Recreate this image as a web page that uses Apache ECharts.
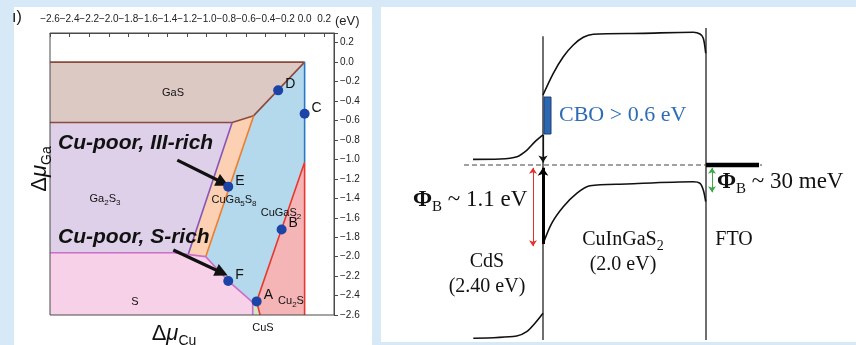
<!DOCTYPE html>
<html><head><meta charset="utf-8">
<script src="https://cdn.jsdelivr.net/npm/echarts@6/dist/echarts.min.js"></script>
<style>html,body{margin:0;padding:0;background:#d7e9f7;}#c{width:856px;height:345px;}</style>
</head><body><div id="c"></div>
<script>
// ---------- Left panel: chemical-potential phase diagram (Δμ_Cu, Δμ_Ga in eV) ----------
const regionNames = ['GaS', 'Ga2S3', 'CuGa5S8', 'CuGaS2', 'Cu2S', 'CuS', 'S'];
const regionGaS     = [[-2.6, 0], [0, 0], [-0.52, -0.55], [-0.74, -0.62], [-2.6, -0.62]];
const regionGa2S3   = [[-2.6, -0.62], [-0.74, -0.62], [-1.19, -1.98], [-1.34, -1.96], [-2.6, -1.96]];
const regionCuGa5S8 = [[-0.74, -0.62], [-0.52, -0.55], [-1.01, -2.0], [-1.19, -1.98]];
const regionCuGaS2  = [[0, 0], [-0.52, -0.55], [-1.01, -2.0], [-0.78, -2.25], [-0.53, -2.47], [-0.49, -2.46], [0, -1.03]];
const regionCu2S    = [[0, -1.03], [-0.49, -2.46], [-0.455, -2.6], [0, -2.6]];
const regionCuS     = [[-0.53, -2.47], [-0.49, -2.46], [-0.455, -2.6], [-0.53, -2.6]];
const regionS       = [[-2.6, -1.96], [-1.34, -1.96], [-1.01, -2.0], [-0.78, -2.25], [-0.53, -2.47], [-0.53, -2.6], [-2.6, -2.6]];

const boundaryGaS     = [[-2.6, 0], [0, 0], [-0.52, -0.55], [-0.74, -0.62], [-2.6, -0.62]];
const boundaryGa2S3   = [[-0.74, -0.62], [-1.19, -1.98]];
const boundaryCuGa5S8 = [[-0.52, -0.55], [-1.01, -2.0]];
const boundaryS       = [[-2.6, -1.96], [-1.34, -1.96], [-1.01, -2.0], [-0.78, -2.25], [-0.53, -2.47], [-0.53, -2.6]];
const boundaryCuBlue  = [[0, 0], [0, -1.03]];
const boundaryCu2S    = [[-0.455, -2.6], [-0.49, -2.46], [0, -1.03], [0, -2.6]];

const pointNames = ['D', 'C', 'E', 'B', 'F', 'A'];
const pointDmuCu = [-0.27, 0, -0.78, -0.235, -0.78, -0.49];
const pointDmuGa = [-0.29, -0.53, -1.28, -1.72, -2.25, -2.46];

const calloutArrows = [
  [[-1.30, -1.007], [-0.835, -1.240]],
  [[-1.341, -1.932], [-0.845, -2.165]]
];

// ---------- Right panel: band diagram (position, energy in eV, E_F = 0) ----------
const cdsCB  = [[18.4, 0.081], [23.8, 0.086], [27.2, 0.119], [29.2, 0.214], [30.8, 0.333], [32.4, 0.429]];
const cigsCB = [[32.4, 1.0], [34.46, 1.31], [36.46, 1.547], [38.46, 1.714], [40.46, 1.824], [42.46, 1.867],
                [52.46, 1.881], [62.46, 1.896], [63.8, 1.871], [64.46, 1.81], [64.94, 1.596]];
const cigsVB = [[32.4, -1.129], [34.14, -0.833], [36.46, -0.596], [39.14, -0.404], [41.8, -0.296], [49.14, -0.271],
                [62.46, -0.239], [63.8, -0.261], [64.46, -0.357], [64.94, -0.524]];
const cdsVB  = [[18.46, -2.476], [27.14, -2.443], [29.14, -2.381], [30.8, -2.261], [32.4, -2.119]];
const interface1 = [[32.4, 1.84], [32.4, -2.5]];
const interface2 = [[65, 1.957], [65, -2.5]];
const fermiLevel = [[16.6, 0], [76.2, 0]];
const ftoLevel = [[65, 0], [75.6, 0]];
const cboBox = [[32.6, 0.443, 34.0, 0.971]];
const arrowCBO = [[32.4, 0.43], [32.4, 0.036]];
const arrowPhiCIGS = [[32.4, -1.13], [32.4, -0.04]];
const arrowPhiRed = [[30.4, -1.16], [30.4, -0.04]];
const arrowPhiGreen = [[66.2, -0.39], [66.2, -0.04]];

const SANS = 'Liberation Sans, Arial, sans-serif';
const SERIF = 'Liberation Serif, Times New Roman, serif';

const fmtTick = v => {
  if (v > 0.25) return '';
  if (Math.abs(v) < 1e-9) return '0.0';
  return v.toFixed(1).replace('-', '\u2212');
};

const regions = [regionGaS, regionGa2S3, regionCuGa5S8, regionCuGaS2, regionCu2S, regionCuS, regionS];
const regionColors = ['#dcc9c4', '#ddd0e8', '#fcd1b3', '#b4d9ec', '#f5b4b5', '#cfe8c6', '#f7d1e8'];

function bline(data, color, width, xi, yi) {
  return { type: 'line', xAxisIndex: xi, yAxisIndex: yi, data: data, symbol: 'none', silent: true, z: 3,
    lineStyle: { color: color, width: width }, animation: false };
}
function arrow(data, color, width, xi, yi, sym, size) {
  return { type: 'lines', coordinateSystem: 'cartesian2d', xAxisIndex: xi, yAxisIndex: yi, silent: true, z: 6,
    symbol: sym, symbolSize: size, lineStyle: { color: color, width: width, opacity: 1 },
    data: [{ coords: data }], animation: false };
}

const subRich = (fs, sfs, lh, family, color) => ({
  n: { fontSize: fs, lineHeight: lh, fontFamily: family, color: color },
  s: { fontSize: sfs, lineHeight: sfs, verticalAlign: 'bottom', fontFamily: family, color: color }
});

function txt(x, y, text, opt) {
  return Object.assign({ type: 'text', x: x, y: y, silent: true, z: 20,
    style: Object.assign({ text: text, align: 'center', verticalAlign: 'middle', fill: '#111', fontFamily: SANS, fontSize: 11 }, opt) });
}
function phiRich(color) {
  return {
    p: { fontSize: 23, lineHeight: 30, fontWeight: 'bold', fontFamily: SERIF, color: color },
    b: { fontSize: 15, lineHeight: 15, verticalAlign: 'bottom', fontFamily: SERIF, color: color },
    t: { fontSize: 23, lineHeight: 30, fontFamily: SERIF, color: color }
  };
}
const muRich = {
  d: { fontSize: 22, lineHeight: 28, fontFamily: SANS, color: '#111' },
  m: { fontSize: 22, lineHeight: 28, fontFamily: SANS, fontStyle: 'italic', color: '#111' },
  s: { fontSize: 14, lineHeight: 14, verticalAlign: 'bottom', fontFamily: SANS, color: '#111' }
};

const chart = echarts.init(document.getElementById('c'), null, { renderer: 'canvas' });
const richLbl = subRich(11, 8, 15, SANS, '#111');
const richBand = subRich(20, 14, 26, SERIF, '#111');

const option = {
  backgroundColor: '#d7e9f7',
  animation: false,
  grid: [
    { left: 50, top: 33, width: 284, height: 282, show: true, borderColor: '#4a4a4a', borderWidth: 1, backgroundColor: 'transparent', z: 5 },
    { left: 381, top: 25, width: 475, height: 315, show: false }
  ],
  xAxis: [
    { gridIndex: 0, type: 'value', position: 'top', min: -2.6, max: 0.3, interval: 0.2, splitLine: { show: false },
      axisLine: { onZero: false, lineStyle: { color: '#4a4a4a' } }, axisTick: { inside: true, length: 4, lineStyle: { color: '#4a4a4a' } },
      axisLabel: { fontSize: 10, color: '#222', margin: 9, formatter: fmtTick, fontFamily: SANS } },
    { gridIndex: 1, type: 'value', min: 0, max: 95, show: false }
  ],
  yAxis: [
    { gridIndex: 0, type: 'value', position: 'right', min: -2.6, max: 0.3, interval: 0.2, splitLine: { show: false },
      axisLine: { onZero: false, lineStyle: { color: '#4a4a4a' } }, axisTick: { inside: false, length: 4, lineStyle: { color: '#4a4a4a' } },
      axisLabel: { fontSize: 10, color: '#222', margin: 6, formatter: fmtTick, fontFamily: SANS } },
    { gridIndex: 1, type: 'value', min: -2.5, max: 2.0, show: false }
  ],
  series: [
    { type: 'custom', xAxisIndex: 0, yAxisIndex: 0, z: 1, silent: true,
      data: regions.map((r, i) => ({ name: regionNames[i], value: [r[0][0], r[0][1]] })),
      renderItem: (params, api) => ({ type: 'polygon', shape: { points: regions[params.dataIndex].map(p => api.coord(p)) },
        style: { fill: regionColors[params.dataIndex], stroke: null } }) },
    bline(boundaryGaS, '#8c4a3d', 1.6, 0, 0),
    bline(boundaryGa2S3, '#8456b8', 1.6, 0, 0),
    bline(boundaryCuGa5S8, '#ef7d2d', 1.6, 0, 0),
    bline(boundaryS, '#cc6ec8', 1.6, 0, 0),
    bline(boundaryCuBlue, '#2878c8', 1.6, 0, 0),
    bline(boundaryCu2S, '#e8372e', 1.6, 0, 0),
    { type: 'scatter', xAxisIndex: 0, yAxisIndex: 0, z: 8, symbolSize: 10, silent: true,
      itemStyle: { color: '#1b44a6', opacity: 1 },
      data: pointNames.map((n, i) => ({ name: n, value: [pointDmuCu[i], pointDmuGa[i]] })),
      label: { show: true, position: 'right', distance: 2, offset: [0, -6], formatter: '{b}', fontSize: 14, color: '#111', fontFamily: SANS } },
    arrow(calloutArrows[0], '#111', 3.2, 0, 0, ['none', 'triangle'], [11, 13]),
    arrow(calloutArrows[1], '#111', 3.2, 0, 0, ['none', 'triangle'], [11, 13]),
    // right panel
    Object.assign(bline(interface1, '#333', 1.4, 1, 1), { z: 2 }),
    Object.assign(bline(interface2, '#333', 1.4, 1, 1), { z: 2 }),
    { type: 'line', xAxisIndex: 1, yAxisIndex: 1, data: fermiLevel, symbol: 'none', silent: true, z: 2,
      lineStyle: { color: '#444', width: 1.2, type: [5, 3] } },
    bline(ftoLevel, '#000', 4.5, 1, 1),
    Object.assign(bline(cdsCB, '#111', 1.6, 1, 1), { smooth: 0.3 }),
    Object.assign(bline(cigsCB, '#111', 1.6, 1, 1), { smooth: 0.3 }),
    Object.assign(bline(cigsVB, '#111', 1.6, 1, 1), { smooth: 0.3 }),
    Object.assign(bline(cdsVB, '#111', 1.6, 1, 1), { smooth: 0.3 }),
    { type: 'custom', xAxisIndex: 1, yAxisIndex: 1, z: 5, silent: true, data: cboBox,
      renderItem: (params, api) => {
        const p1 = api.coord([api.value(0), api.value(3)]);
        const p2 = api.coord([api.value(2), api.value(1)]);
        return { type: 'rect', shape: { x: p1[0], y: p1[1], width: p2[0] - p1[0], height: p2[1] - p1[1] },
          style: { fill: '#2c67b2', stroke: '#1d3f75', lineWidth: 1 } };
      } },
    arrow(arrowCBO, '#111', 1.2, 1, 1, ['none', 'arrow'], [0, 7]),
    arrow(arrowPhiCIGS, '#000', 3, 1, 1, ['none', 'arrow'], [0, 8]),
    arrow(arrowPhiRed, '#e8302a', 1, 1, 1, ['arrow', 'arrow'], [6, 6]),
    arrow(arrowPhiGreen, '#3aa845', 1, 1, 1, ['arrow', 'arrow'], [6, 6])
  ],
  graphic: [
    { type: 'rect', silent: true, z: -10, shape: { x: 14, y: 7, width: 358, height: 338 }, style: { fill: '#fff' } },
    { type: 'rect', silent: true, z: -10, shape: { x: 381, y: 7, width: 475, height: 335 }, style: { fill: '#fff' } },
    txt(17, 18, '\u0131)', { fontSize: 16, align: 'center' }),
    txt(335, 21, '(eV)', { fontSize: 13, align: 'left', fill: '#222' }),
    txt(173, 93, 'GaS', { fontSize: 11 }),
    txt(105, 199, '{n|Ga}{s|2}{n|S}{s|3}', { rich: richLbl }),
    txt(234, 200, '{n|CuGa}{s|5}{n|S}{s|8}', { rich: richLbl }),
    txt(281, 213, '{n|CuGaS}{s|2}', { rich: richLbl }),
    txt(291, 301, '{n|Cu}{s|2}{n|S}', { rich: richLbl }),
    txt(135, 302, 'S', { fontSize: 11 }),
    txt(263, 328, 'CuS', { fontSize: 11 }),
    txt(58, 143, 'Cu-poor, III-rich', { align: 'left', fontSize: 21, fontWeight: 'bold', fontStyle: 'italic' }),
    txt(58, 237, 'Cu-poor, S-rich', { align: 'left', fontSize: 21, fontWeight: 'bold', fontStyle: 'italic' }),
    txt(174, 334, '{d|\u0394}{m|\u03bc}{s|Cu}', { rich: muRich }),
    Object.assign(txt(40, 169, '{d|\u0394}{m|\u03bc}{s|Ga}', { rich: muRich }), { rotation: Math.PI / 2 }),
    // right panel texts
    txt(559, 115, 'CBO > 0.6 eV', { align: 'left', fontSize: 22, fontFamily: SERIF, fill: '#2e6db4' }),
    txt(413, 200, '{p|\u03a6}{b|B}{t| ~ 1.1 eV}', { align: 'left', rich: phiRich('#e8302a') }),
    txt(717, 182, '{p|\u03a6}{b|B}{t| ~ 30 meV}', { align: 'left', rich: phiRich('#3aa845') }),
    txt(487, 262, 'CdS', { fontSize: 20, fontFamily: SERIF }),
    txt(487, 287, '(2.40 eV)', { fontSize: 20, fontFamily: SERIF }),
    txt(623, 240, '{n|CuInGaS}{s|2}', { rich: richBand }),
    txt(623, 265, '(2.0 eV)', { fontSize: 20, fontFamily: SERIF }),
    txt(734, 240, 'FTO', { fontSize: 20, fontFamily: SERIF })
  ]
};
chart.setOption(option);
</script>
</body></html>
